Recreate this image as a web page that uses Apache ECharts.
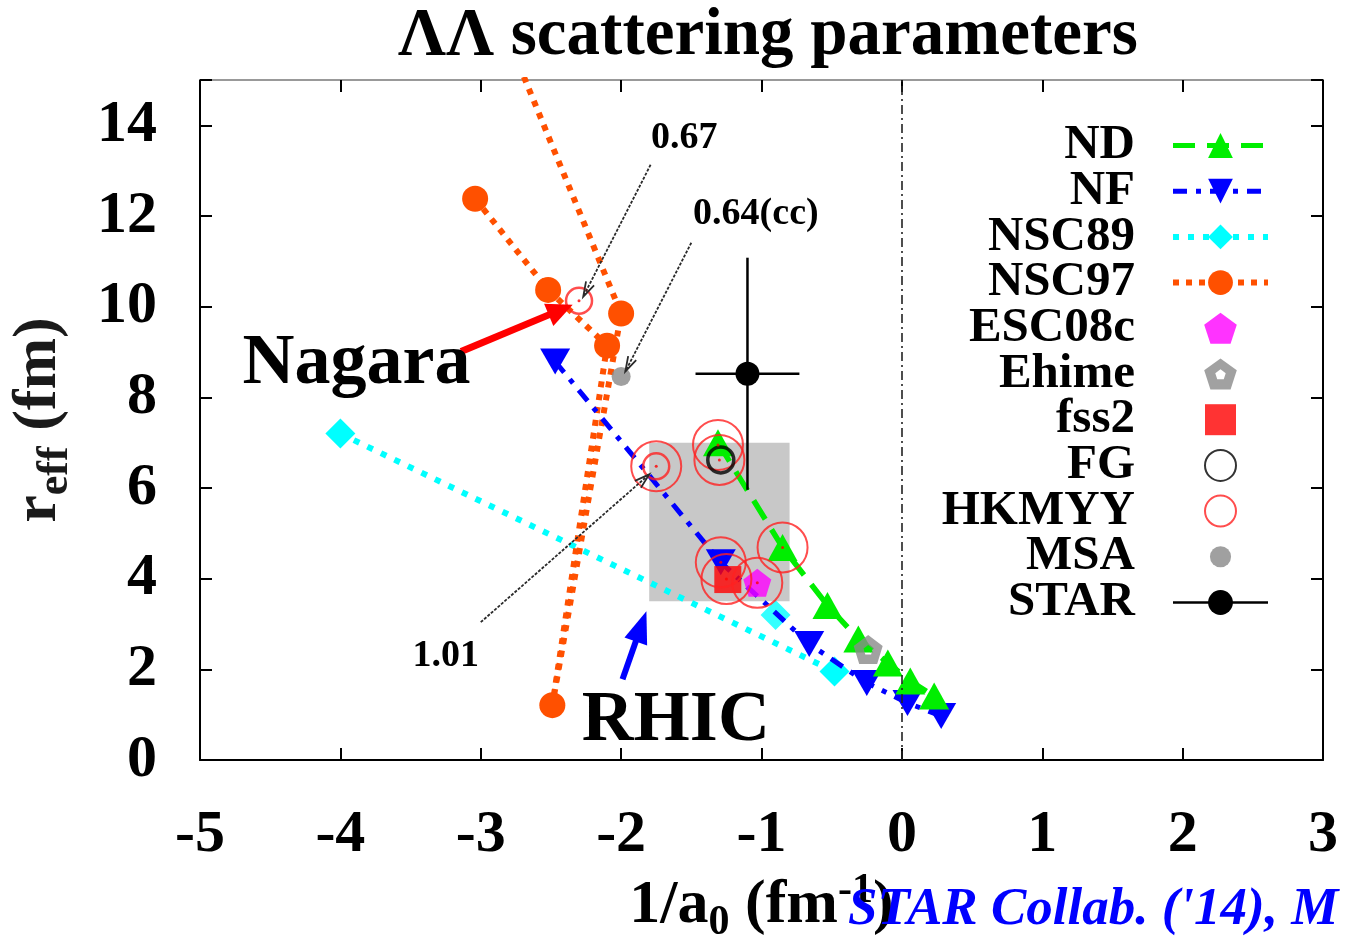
<!DOCTYPE html>
<html><head><meta charset="utf-8">
<script src="https://cdn.jsdelivr.net/npm/echarts@6/dist/echarts.min.js"></script>
<style>html,body{margin:0;padding:0;background:#fff}#c{width:1346px;height:942px}</style>
</head><body><div id="c"></div>
<script>
// ---------- data ----------
const xTicks = [-5, -4, -3, -2, -1, 0, 1, 2, 3];
const yTicks = [0, 2, 4, 6, 8, 10, 12, 14];
const legendNames = ['ND', 'NF', 'NSC89', 'NSC97', 'ESC08c', 'Ehime', 'fss2', 'FG', 'HKMYY', 'MSA', 'STAR'];

const ND = [[-1.31, 7.00], [-0.85, 4.69], [-0.53, 3.41], [-0.31, 2.67], [-0.10, 2.14], [0.06, 1.74], [0.23, 1.41]];
const NF = [[-2.47, 8.79], [-1.29, 4.36], [-0.66, 2.56], [-0.25, 1.70], [0.04, 1.26], [0.28, 0.97]];
const NSC89_line = [[-4.00, 7.20], [-0.48, 1.95]];
const NSC89_extra = [[-0.90, 3.20]];
const NSC97 = [[-3.04, 12.38], [-2.52, 10.37], [-2.10, 9.14], [-2.49, 1.21], [-2.00, 9.85], [-2.86, 16.33]];
const ESC08c = [[-1.03, 3.91]];
const Ehime = [[-0.24, 2.44]];
const fss2 = [[-1.24, 3.98]];
const FG = [[-1.29, 6.62]];
const HKMYY = [[-2.30, 10.13], [-1.75, 6.48]];
const HKMYY_rings = [[-1.75, 6.48], [-1.31, 6.95], [-1.30, 6.62], [-0.85, 4.69], [-1.29, 4.36], [-1.25, 3.99], [-1.03, 3.91]];
const HKMYY_centers = [[-2.30, 10.13], [-1.75, 6.48], [-1.31, 6.95], [-1.30, 6.62], [-0.85, 4.69], [-1.29, 4.36], [-1.25, 3.99], [-1.03, 3.91]];
const MSA = [[-2.00, 8.46]];
const STAR_x = [-1.10];
const STAR_y = [8.52];
const STAR_xerr = [0.37];
const STAR_yerr_up = [2.56];
const STAR_yerr_down = [2.56];
const RHIC_x = [-1.8, -0.8];
const RHIC_y = [3.5, 7.0];

// annotations (data coordinates)
const annoTexts = [
  { text: '0.67', at: [-1.55, 13.72], size: 38 },
  { text: '0.64(cc)', at: [-1.04, 12.03], size: 38 },
  { text: '1.01', at: [-3.25, 2.29], size: 38 },
  { text: 'Nagara', at: [-3.885, 8.72], size: 72 },
  { text: 'RHIC', at: [-1.61, 0.86], size: 72 }
];
const thinArrows = [
  [[-1.79, 13.13], [-2.27, 10.22]],
  [[-1.50, 11.41], [-1.97, 8.57]],
  [[-3.00, 3.04], [-1.80, 6.30]]
];
const redArrow = [[-3.14, 9.01], [-2.345, 10.04]];
const blueArrow = [[-1.99, 1.78], [-1.82, 3.28]];

// ---------- styling ----------
const SERIF = "'Liberation Serif','DejaVu Serif','Times New Roman',serif";
const pent = 'path://M50,0 L100,36.3 L80.9,95.1 L19.1,95.1 L0,36.3 Z';
const pentHole = 'path://M50,0 L100,36.3 L80.9,95.1 L19.1,95.1 L0,36.3 Z M50,33 L34,45 L40,64 L60,64 L66,45 Z';
const invTri = 'path://M0,0 L100,0 L50,86.6 Z';
const square = 'path://M0,0 L100,0 L100,100 L0,100 Z';
const smallDot = 'path://M0,0 M100,100 M16,50 A34,34 0 1,0 84,50 A34,34 0 1,0 16,50 Z';

const chart = echarts.init(document.getElementById('c'), null, { renderer: 'canvas' });

const axisCommon = {
  type: 'value', splitLine: { show: false },
  axisLine: { show: true, onZero: false, lineStyle: { color: '#000', width: 2 } },
  axisTick: { show: true, inside: true, length: 12, lineStyle: { color: '#000', width: 2 } }
};
const tickLabel = { fontFamily: SERIF, fontWeight: 'bold', fontSize: 60, color: '#000' };

const legendLine = { ND: 5, NF: 5, NSC89: 6, NSC97: 6, STAR: 2.5 };

const option = {
  backgroundColor: '#fff',
  animation: false,
  title: {
    text: 'ΛΛ scattering parameters', left: 393, top: -2,
    textStyle: { fontFamily: SERIF, fontWeight: 'bold', fontSize: 67, color: '#000' }
  },
  grid: { left: 200, right: 23, top: 80, bottom: 182, containLabel: false, outerBoundsMode: 'none' },
  xAxis: [
    Object.assign({}, axisCommon, {
      min: xTicks[0], max: xTicks[xTicks.length - 1], interval: 1, position: 'bottom',
      axisLabel: Object.assign({ margin: 45 }, tickLabel),
      name: '{n|1/a}{sub|0}{n| (fm}{sup|-1}{n|)}', nameLocation: 'middle', nameGap: 104,
      nameTextStyle: {
        fontFamily: SERIF, fontWeight: 'bold', fontSize: 62, color: '#000',
        rich: {
          n: { fontFamily: SERIF, fontWeight: 'bold', fontSize: 62, color: '#000' },
          sub: { fontFamily: SERIF, fontWeight: 'bold', fontSize: 42, color: '#000', padding: [34, 0, 0, 0] },
          sup: { fontFamily: SERIF, fontWeight: 'bold', fontSize: 42, color: '#000', padding: [0, 0, 30, 0] }
        }
      }
    }),
    Object.assign({}, axisCommon, {
      min: xTicks[0], max: xTicks[xTicks.length - 1], interval: 1, position: 'top',
      axisLine: { show: true, onZero: false, lineStyle: { color: '#999', width: 2 } },
      axisLabel: { show: false }
    })
  ],
  yAxis: [
    Object.assign({}, axisCommon, {
      min: yTicks[0], max: 15, interval: 2, position: 'left',
      axisLabel: Object.assign({ margin: 43, formatter: v => (yTicks.indexOf(v) >= 0 ? String(v) : '') }, tickLabel),
      name: '{n|r}{sub|eff}{n| (fm)}', nameLocation: 'middle', nameGap: 122, nameRotate: 90,
      nameTextStyle: {
        fontFamily: SERIF, fontWeight: 'bold', fontSize: 62, color: '#1a1a1a',
        rich: {
          n: { fontFamily: SERIF, fontWeight: 'bold', fontSize: 62, color: '#1a1a1a' },
          sub: { fontFamily: SERIF, fontWeight: 'bold', fontSize: 44, color: '#1a1a1a', padding: [34, 0, 0, 0] }
        }
      }
    }),
    Object.assign({}, axisCommon, {
      min: yTicks[0], max: 15, interval: 2, position: 'right',
      axisLabel: { show: false }
    })
  ],
  legend: {
    orient: 'vertical', right: 70, top: 116, align: 'right',
    itemWidth: 95, itemHeight: 31, itemGap: -3.3, selectedMode: false,
    data: legendNames.map(n => legendLine[n] ? { name: n, lineStyle: { width: legendLine[n] } } : { name: n }),
    textStyle: { fontFamily: SERIF, fontWeight: 'bold', fontSize: 49, color: '#000', padding: [0, 33, 0, 0] }
  },
  series: [
    {
      name: 'box', type: 'line', data: [], z: 0, silent: true,
      markArea: {
        silent: true, itemStyle: { color: '#c8c8c8', opacity: 1 },
        data: [[{ xAxis: RHIC_x[0], yAxis: RHIC_y[0] }, { xAxis: RHIC_x[1], yAxis: RHIC_y[1] }]]
      },
      markLine: {
        silent: true, symbol: ['none', 'none'], label: { show: false },
        lineStyle: { color: '#222', width: 1.6, type: [9, 4, 2, 4] },
        data: [{ xAxis: 0 }]
      }
    },
    {
      name: 'NSC89', type: 'line', data: NSC89_line, z: 3,
      symbol: 'diamond', symbolSize: 30, color: '#00ffff',
      lineStyle: { color: '#00ffff', width: 6, type: [6, 9] }, itemStyle: { color: '#00ffff' }
    },
    {
      name: 'NSC89', type: 'scatter', data: NSC89_extra, z: 3,
      symbol: 'diamond', symbolSize: 30, itemStyle: { color: '#00ffff' }
    },
    {
      name: 'NSC97', type: 'line', data: NSC97, z: 3,
      symbol: 'circle', symbolSize: 26, color: '#ff5000',
      lineStyle: { color: '#ff5000', width: 6, type: [6, 7] }, itemStyle: { color: '#ff5000' }
    },
    {
      name: 'NF', type: 'line', data: NF, z: 4,
      symbol: invTri, symbolSize: [30, 26], color: '#0000ff',
      lineStyle: { color: '#0000ff', width: 5, type: [14, 9, 5, 9] }, itemStyle: { color: '#0000ff' }
    },
    {
      name: 'ND', type: 'line', data: ND, z: 4,
      symbol: 'triangle', symbolSize: [30, 27], color: '#00ee00',
      lineStyle: { color: '#00ee00', width: 5.5, type: [22, 12] }, itemStyle: { color: '#00ee00' }
    },
    {
      name: 'ESC08c', type: 'scatter', data: ESC08c, z: 5,
      symbol: pent, symbolSize: 28, itemStyle: { color: '#ff00ff' }
    },
    {
      name: 'Ehime', type: 'scatter', data: Ehime, z: 5,
      symbol: pentHole, symbolSize: 29, itemStyle: { color: '#8a8a8a' }
    },
    {
      name: 'fss2', type: 'scatter', data: fss2, z: 5,
      symbol: square, symbolSize: 27, itemStyle: { color: '#ff0000' }
    },
    {
      name: 'MSA', type: 'scatter', data: MSA, z: 5,
      symbol: smallDot, symbolSize: 28, itemStyle: { color: '#888888' }
    },
    {
      name: 'HKMYY ring', type: 'scatter', data: HKMYY_rings, z: 6, silent: true,
      symbol: 'circle', symbolSize: 50,
      itemStyle: { color: 'rgba(0,0,0,0)', borderColor: '#ff2020', borderWidth: 2 }
    },
    {
      name: 'FG', type: 'scatter', data: FG, z: 6,
      symbol: 'circle', symbolSize: 26,
      itemStyle: { color: 'rgba(0,0,0,0)', borderColor: '#000', borderWidth: 3.5 }
    },
    {
      name: 'HKMYY', type: 'scatter', data: HKMYY, z: 6,
      symbol: 'circle', symbolSize: 26,
      itemStyle: { color: 'rgba(0,0,0,0)', borderColor: '#ff2020', borderWidth: 2.5 }
    },
    {
      name: 'HKMYY center', type: 'scatter', data: HKMYY_centers, z: 7, silent: true,
      symbol: 'circle', symbolSize: 3, itemStyle: { color: '#ff0000' }
    },
    {
      name: 'STAR err', type: 'custom', z: 7, silent: true,
      data: STAR_x.map((x, i) => [x, STAR_y[i], STAR_xerr[i], STAR_yerr_up[i], STAR_yerr_down[i]]),
      encode: { x: 0, y: 1 },
      renderItem: function (params, api) {
        const x = api.value(0), y = api.value(1), ex = api.value(2), eu = api.value(3), ed = api.value(4);
        const l = api.coord([x - ex, y]), r = api.coord([x + ex, y]);
        const t = api.coord([x, y + eu]), b = api.coord([x, y - ed]);
        const st = { stroke: '#000', lineWidth: 2.5 };
        return {
          type: 'group', children: [
            { type: 'line', shape: { x1: l[0], y1: l[1], x2: r[0], y2: r[1] }, style: st },
            { type: 'line', shape: { x1: t[0], y1: t[1], x2: b[0], y2: b[1] }, style: st }
          ]
        };
      }
    },
    {
      name: 'STAR', type: 'line', data: STAR_x.map((x, i) => [x, STAR_y[i]]), z: 8,
      symbol: 'circle', symbolSize: 24, showSymbol: true, color: '#000',
      lineStyle: { color: '#000', width: 2.5 }, itemStyle: { color: '#000' }
    }
  ]
};
chart.setOption(option);

// ---------- annotations positioned via the axes ----------
const P = p => chart.convertToPixel({ gridIndex: 0 }, p);
function arrowEls(a, b, color, w, hl, hw, filled, dash) {
  const p0 = P(a), p1 = P(b);
  const dx = p1[0] - p0[0], dy = p1[1] - p0[1], L = Math.hypot(dx, dy), ux = dx / L, uy = dy / L;
  const bx = p1[0] - ux * hl, by = p1[1] - uy * hl, nx = -uy, ny = ux;
  const left = [bx + nx * hw / 2, by + ny * hw / 2], right = [bx - nx * hw / 2, by - ny * hw / 2];
  const els = [{
    type: 'line', z: 100, silent: true,
    shape: { x1: p0[0], y1: p0[1], x2: filled ? bx + ux * 2 : p1[0], y2: filled ? by + uy * 2 : p1[1] },
    style: { stroke: color, lineWidth: w, lineDash: dash || null }
  }];
  if (filled) els.push({ type: 'polygon', z: 100, silent: true, shape: { points: [p1, left, right] }, style: { fill: color } });
  else els.push({ type: 'polyline', z: 100, silent: true, shape: { points: [left, p1, right] }, style: { stroke: color, lineWidth: w, fill: null } });
  return els;
}
const g = [];
thinArrows.forEach(a => g.push(...arrowEls(a[0], a[1], '#2a2a2a', 1.8, 15, 9, false, [3, 1.5])));
g.push(...arrowEls(redArrow[0], redArrow[1], '#ff0000', 7, 26, 24, true));
g.push(...arrowEls(blueArrow[0], blueArrow[1], '#0000ff', 6, 32, 24, true));
annoTexts.forEach(a => {
  const p = P(a.at);
  g.push({
    type: 'text', z: 101, silent: true, x: p[0], y: p[1],
    style: { text: a.text, fill: '#000', font: 'bold ' + a.size + 'px ' + SERIF, align: 'center', verticalAlign: 'middle' }
  });
});
g.push({
  type: 'text', z: 102, silent: true, x: 848, y: 910,
  style: { text: "STAR Collab. ('14), M", fill: '#0000ff', font: 'italic bold 53px ' + SERIF, align: 'left', verticalAlign: 'middle' }
});
chart.setOption({ graphic: g });
</script>
</body></html>
